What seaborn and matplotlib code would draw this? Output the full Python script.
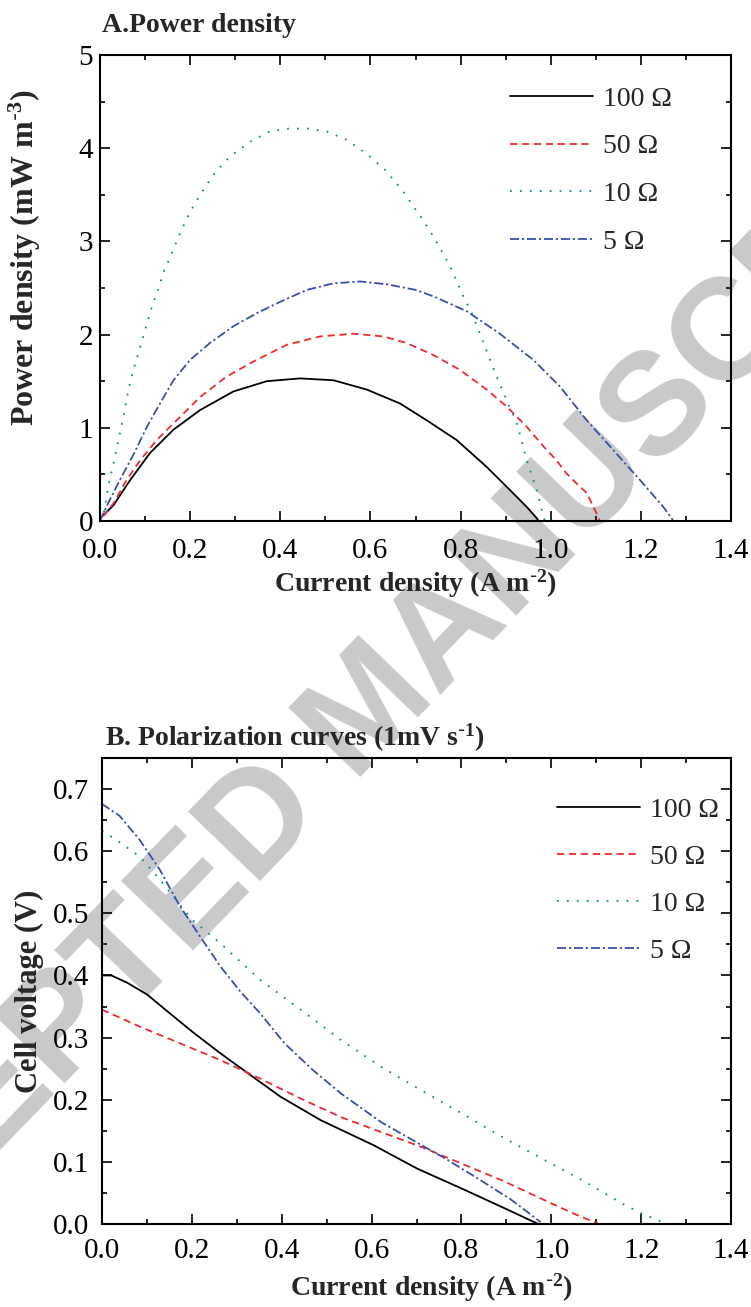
import numpy as np
import matplotlib
matplotlib.use("Agg")
import matplotlib.pyplot as plt
import seaborn as sns
from matplotlib.ticker import MultipleLocator

# ---- data ----
# A. power density (x: A m-2, y: mW m-3)
pa_x_100 = [0.007, 0.030, 0.067, 0.111, 0.163, 0.222, 0.296, 0.370, 0.444, 0.518, 0.592, 0.666,
            0.725, 0.791, 0.858, 0.910, 0.947, 0.969, 0.973]
pa_y_100 = [0.06, 0.17, 0.44, 0.73, 0.98, 1.19, 1.39, 1.50, 1.53, 1.51, 1.41, 1.26,
            1.08, 0.87, 0.58, 0.33, 0.15, 0.03, 0.0]
pa_x_50 = [0.007, 0.030, 0.059, 0.089, 0.126, 0.170, 0.222, 0.281, 0.340, 0.414, 0.488, 0.562,
           0.629, 0.680, 0.740, 0.799, 0.858, 0.902, 0.947, 0.984, 1.013, 1.035, 1.058, 1.080,
           1.091, 1.102, 1.109]
pa_y_50 = [0.05, 0.19, 0.44, 0.65, 0.87, 1.08, 1.33, 1.55, 1.71, 1.89, 1.98, 2.01,
           1.98, 1.91, 1.78, 1.62, 1.41, 1.23, 1.01, 0.80, 0.65, 0.51, 0.40, 0.30,
           0.19, 0.08, 0.0]
pa_x_10 = [0.0, 0.006, 0.011, 0.018, 0.030, 0.041, 0.052, 0.063, 0.074, 0.087, 0.100, 0.112,
           0.127, 0.142, 0.159, 0.178, 0.198, 0.222, 0.251, 0.288, 0.333, 0.377, 0.418, 0.462,
           0.503, 0.547, 0.592, 0.632, 0.669, 0.699, 0.714, 0.740, 0.777, 0.806, 0.825, 0.851,
           0.880, 0.902, 0.925, 0.947, 0.969, 0.984, 0.987]
pa_y_10 = [0.0, 0.03, 0.15, 0.37, 0.62, 0.87, 1.12, 1.41, 1.62, 1.83, 2.05, 2.25,
           2.46, 2.68, 2.87, 3.09, 3.30, 3.50, 3.71, 3.91, 4.07, 4.18, 4.21, 4.21,
           4.18, 4.09, 3.94, 3.77, 3.56, 3.35, 3.25, 3.05, 2.73, 2.41, 2.23, 1.91,
           1.55, 1.30, 1.05, 0.65, 0.33, 0.05, 0.0]
pa_x_5 = [0.0, 0.007, 0.022, 0.044, 0.074, 0.104, 0.133, 0.163, 0.200, 0.244, 0.296, 0.348,
          0.399, 0.459, 0.518, 0.577, 0.636, 0.700, 0.740, 0.814, 0.887, 0.961, 1.021, 1.080,
          1.139, 1.198, 1.250, 1.268, 1.272]
pa_y_5 = [0.0, 0.08, 0.23, 0.44, 0.71, 1.01, 1.26, 1.51, 1.73, 1.91, 2.09, 2.23,
          2.35, 2.48, 2.55, 2.57, 2.54, 2.48, 2.41, 2.25, 2.01, 1.73, 1.44, 1.08,
          0.76, 0.44, 0.15, 0.03, 0.0]

# B. polarization curves (x: A m-2, y: V)
pb_x_100 = [0.0, 0.021, 0.057, 0.101, 0.146, 0.200, 0.263, 0.326, 0.397, 0.487, 0.604, 0.702,
            0.810, 0.900, 0.971]
pb_y_100 = [0.400, 0.400, 0.388, 0.369, 0.342, 0.310, 0.275, 0.242, 0.205, 0.167, 0.127, 0.089,
            0.054, 0.024, 0.0]
pb_x_50 = [0.0, 0.083, 0.173, 0.263, 0.352, 0.442, 0.532, 0.621, 0.711, 0.801, 0.891, 0.980,
           1.052, 1.106]
pb_y_50 = [0.345, 0.318, 0.291, 0.264, 0.234, 0.202, 0.172, 0.148, 0.124, 0.097, 0.070, 0.040,
           0.016, 0.0]
pb_x_10 = [0.0, 0.030, 0.083, 0.128, 0.200, 0.263, 0.352, 0.442, 0.532, 0.621, 0.711, 0.801,
           0.891, 0.980, 1.070, 1.160, 1.204, 1.258]
pb_y_10 = [0.633, 0.619, 0.592, 0.555, 0.490, 0.452, 0.393, 0.345, 0.296, 0.253, 0.215, 0.178,
           0.140, 0.105, 0.070, 0.032, 0.016, 0.0]
pb_x_5 = [0.0, 0.039, 0.083, 0.128, 0.173, 0.218, 0.263, 0.308, 0.352, 0.406, 0.469, 0.532,
          0.621, 0.711, 0.765, 0.837, 0.909, 0.953, 0.976]
pb_y_5 = [0.676, 0.657, 0.619, 0.571, 0.512, 0.463, 0.415, 0.374, 0.339, 0.291, 0.248, 0.210,
          0.164, 0.127, 0.105, 0.073, 0.040, 0.016, 0.003]

labels = ["100 Ω", "50 Ω", "10 Ω", "5 Ω"]
xticks = [0.0, 0.2, 0.4, 0.6, 0.8, 1.0, 1.2, 1.4]
yticks_b = [0.0, 0.1, 0.2, 0.3, 0.4, 0.5, 0.6, 0.7]

sns.set_style("ticks")
plt.rcParams['font.family'] = ['Liberation Serif', 'DejaVu Serif']
plt.rcParams['mathtext.default'] = 'regular'

RED = '#f02a2a'
TEAL = '#0a8c8c'
BLUE = '#3550b0'
styles = [('black', '-'), (RED, (0, (4, 2.6))), (TEAL, (0, (1, 4.5))), (BLUE, (0, (5, 1.6, 1.2, 1.6)))]

W, H = 751, 1307
fig = plt.figure(figsize=(W / 100, H / 100), dpi=100)


def px_axes(left, top, right, bottom):
    return fig.add_axes([left / W, 1 - bottom / H, (right - left) / W, (bottom - top) / H])


def style_axes(ax):
    ax.set_facecolor('none')
    for s in ax.spines.values():
        s.set_linewidth(1.5)
        s.set_color('black')
    ax.tick_params(which='both', direction='in', top=True, right=True,
                   labelsize=21, width=1.2, colors='black')
    ax.tick_params(which='major', length=7)
    ax.tick_params(which='minor', length=3.5)


# ---------- panel A ----------
axA = px_axes(100, 55, 731, 521)
series_a = [(pa_x_100, pa_y_100), (pa_x_50, pa_y_50), (pa_x_10, pa_y_10), (pa_x_5, pa_y_5)]
for (xs, ys), (c, ls), lab in zip(series_a, styles, labels):
    sns.lineplot(x=xs, y=ys, ax=axA, color=c, linestyle=ls, linewidth=1.3, label=lab, sort=False)
axA.set_xlim(0, 1.4)
axA.set_ylim(0, 5)
axA.set_xticks(xticks)
axA.set_xticklabels([f"{v:.1f}" for v in xticks])
axA.xaxis.set_minor_locator(MultipleLocator(0.1))
axA.yaxis.set_major_locator(MultipleLocator(1))
axA.yaxis.set_minor_locator(MultipleLocator(0.5))
style_axes(axA)
axA.tick_params(axis='x', pad=12)
axA.tick_params(axis='y', pad=5)
axA.set_xlabel("Current density (A m$^{\\text{-}2}$)", fontsize=20, fontweight='bold')
axA.set_ylabel("Power density (mW m$^{\\text{-}3}$)", fontsize=23, fontweight='bold')
axA.xaxis.set_label_coords(0.5, -0.099)
axA.yaxis.set_label_coords(-0.09, 0.564)
fig.text(102 / W, 1 - 25 / H, "A.Power density", fontsize=20, fontweight='bold', va='center', ha='left')
axA.legend(loc='upper left', bbox_to_anchor=((499 - 100) / 631, (521 - 75) / 466), frameon=False,
           fontsize=20, handlelength=3.0, handletextpad=0.36, labelspacing=0.8, borderaxespad=0)

# ---------- panel B ----------
axB = px_axes(102, 758, 731, 1224)
series_b = [(pb_x_100, pb_y_100), (pb_x_50, pb_y_50), (pb_x_10, pb_y_10), (pb_x_5, pb_y_5)]
for (xs, ys), (c, ls), lab in zip(series_b, styles, labels):
    sns.lineplot(x=xs, y=ys, ax=axB, color=c, linestyle=ls, linewidth=1.3, label=lab, sort=False)
axB.set_xlim(0, 1.4)
axB.set_ylim(0, 0.75)
axB.set_xticks(xticks)
axB.set_xticklabels([f"{v:.1f}" for v in xticks])
axB.xaxis.set_minor_locator(MultipleLocator(0.1))
axB.set_yticks(yticks_b)
axB.set_yticklabels([f"{v:.1f}" for v in yticks_b])
axB.yaxis.set_minor_locator(MultipleLocator(0.05))
style_axes(axB)
axB.tick_params(axis='x', pad=10)
axB.tick_params(axis='y', pad=9)
axB.set_xlabel("Current density (A m$^{\\text{-}2}$)", fontsize=20, fontweight='bold')
axB.set_ylabel("Cell voltage (V)", fontsize=22, fontweight='bold')
axB.xaxis.set_label_coords(0.523, -0.102)
axB.yaxis.set_label_coords(-0.093, 0.5)
fig.text(105 / W, 1 - 738 / H, "B. Polarization curves (1mV s$^{\\text{-}1}$)", fontsize=20,
         fontweight='bold', va='center', ha='left')
axB.legend(loc='upper left', bbox_to_anchor=((546 - 102) / 629, (1224 - 786) / 466), frameon=False,
           fontsize=20, handlelength=3.0, handletextpad=0.36, labelspacing=0.78, borderaxespad=0)

# watermark
fig.text(372 / W, 1 - 712 / H, "ACCEPTED MANUSCRIPT", rotation=46, ha='center', va='center',
         fontsize=104, fontweight='bold', color='#c8c9cb', family='Liberation Sans', zorder=-1,
         rotation_mode='anchor')

fig.savefig("out.png", dpi=100)
